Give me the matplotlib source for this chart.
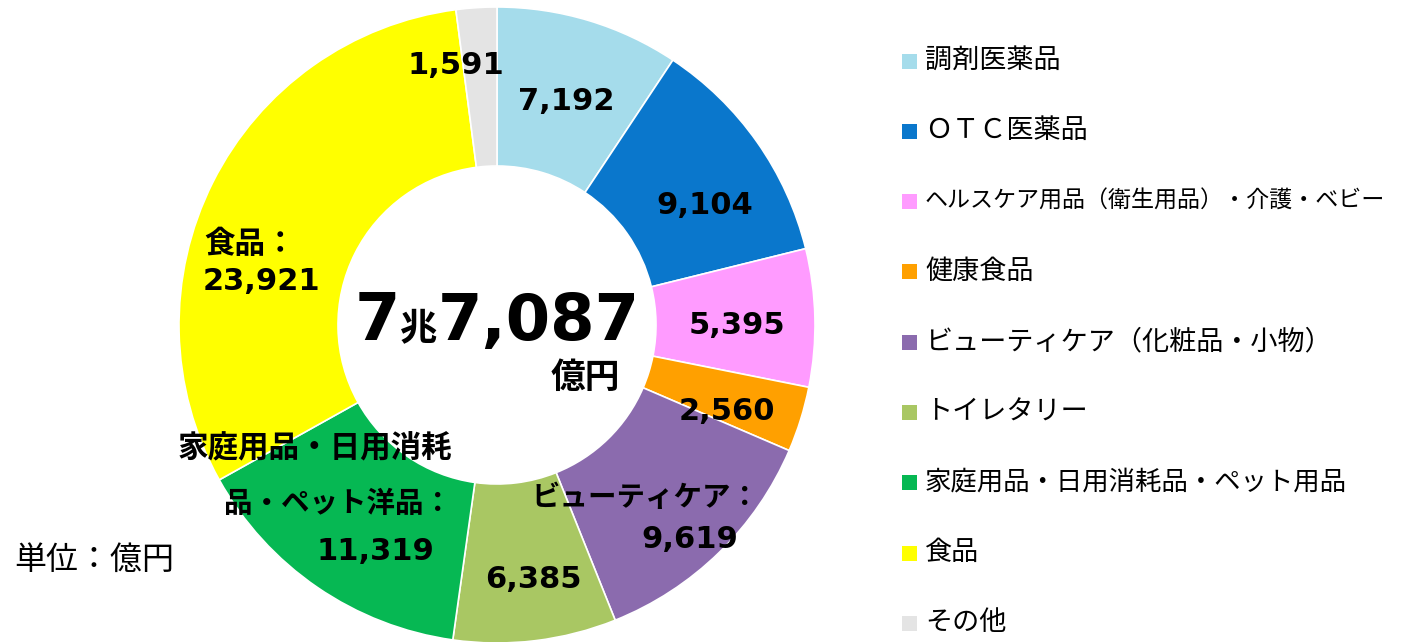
import matplotlib.pyplot as plt
import matplotlib.patches as mpatches

plt.rcParams['font.family'] = ['DejaVu Sans', 'Noto Sans CJK JP']

# data
categories = ['調剤医薬品', 'ＯＴＣ医薬品', 'ヘルスケア用品（衛生用品）・介護・ベビー', '健康食品',
              'ビューティケア（化粧品・小物）', 'トイレタリー', '家庭用品・日用消耗品・ペット用品',
              '食品', 'その他']
values = [7192, 9104, 5395, 2560, 9619, 6385, 11319, 23921, 1591]
colors = ['#A5DCEB', '#0A77CC', '#FF9BFF', '#FFA000', '#8B6BAE', '#A9C763', '#06B853',
          '#FFFF00', '#E4E4E4']
# label texts printed on the ring (prefix lines above the number)
ring_prefix = [[], [], [], [], ['ビューティケア：'], [], ['家庭用品・日用消耗', '品・ペット洋品：'],
               ['食品：'], []]
total_label = ('7', '兆', '7,087', '億円')

# label anchor positions in reference pixels (x, y from top)
num_pos = [(566, 102), (705, 205), (737, 325), (727, 411), (690, 539), (533, 580),
           (375, 551), (261, 282), (456, 65)]
prefix_pos = [[], [], [], [], [(646, 498)], [], [(315, 449), (338, 504)], [(250, 244)], []]
prefix_size = [[], [], [], [], [20.5], [], [22, 20.5], [22], []]

W, H = 1408, 642
cx, cy, R = 497, 325, 318

fig = plt.figure(figsize=(W / 100, H / 100), dpi=100)
ax = fig.add_axes([0, 0, 1, 1])
ax.pie(values, colors=colors, startangle=90, counterclock=False,
       center=(cx, H - cy), radius=R,
       wedgeprops=dict(width=R * 0.5, edgecolor='white', linewidth=1.2))
ax.set_xlim(0, W)
ax.set_ylim(0, H)
ax.set_aspect('equal')
ax.axis('off')

for v, p, pre, pp, ps in zip(values, num_pos, ring_prefix, prefix_pos, prefix_size):
    ax.text(p[0], H - p[1], f'{v:,}', ha='center', va='center', fontsize=22, fontweight='bold')
    for line, lp, fs in zip(pre, pp, ps):
        ax.text(lp[0], H - lp[1], line, ha='center', va='center', fontsize=fs, fontweight='bold')

# center total
ax.text(377, H - 322, total_label[0], ha='center', va='center', fontsize=47, fontweight='bold')
ax.text(419, H - 330, total_label[1], ha='center', va='center', fontsize=27, fontweight='bold')
ax.text(539, H - 322, total_label[2], ha='center', va='center', fontsize=46, fontweight='bold')
ax.text(585, H - 378, total_label[3], ha='center', va='center', fontsize=25, fontweight='bold')

# unit
ax.text(14, H - 560, '単位：億円', ha='left', va='center', fontsize=23)

# legend
legend_size = [19.5, 19.5, 16.6, 19.5, 19.5, 19.5, 19.0, 19.5, 19.5]
for i, (cat, col) in enumerate(zip(categories, colors)):
    y = H - (61 + i * 70.3)
    ax.add_patch(mpatches.Rectangle((902, y - 7.5), 15, 15, facecolor=col, edgecolor='none'))
    ax.text(925, y, cat, ha='left', va='center', fontsize=legend_size[i])

plt.savefig('out.png', dpi=100)
